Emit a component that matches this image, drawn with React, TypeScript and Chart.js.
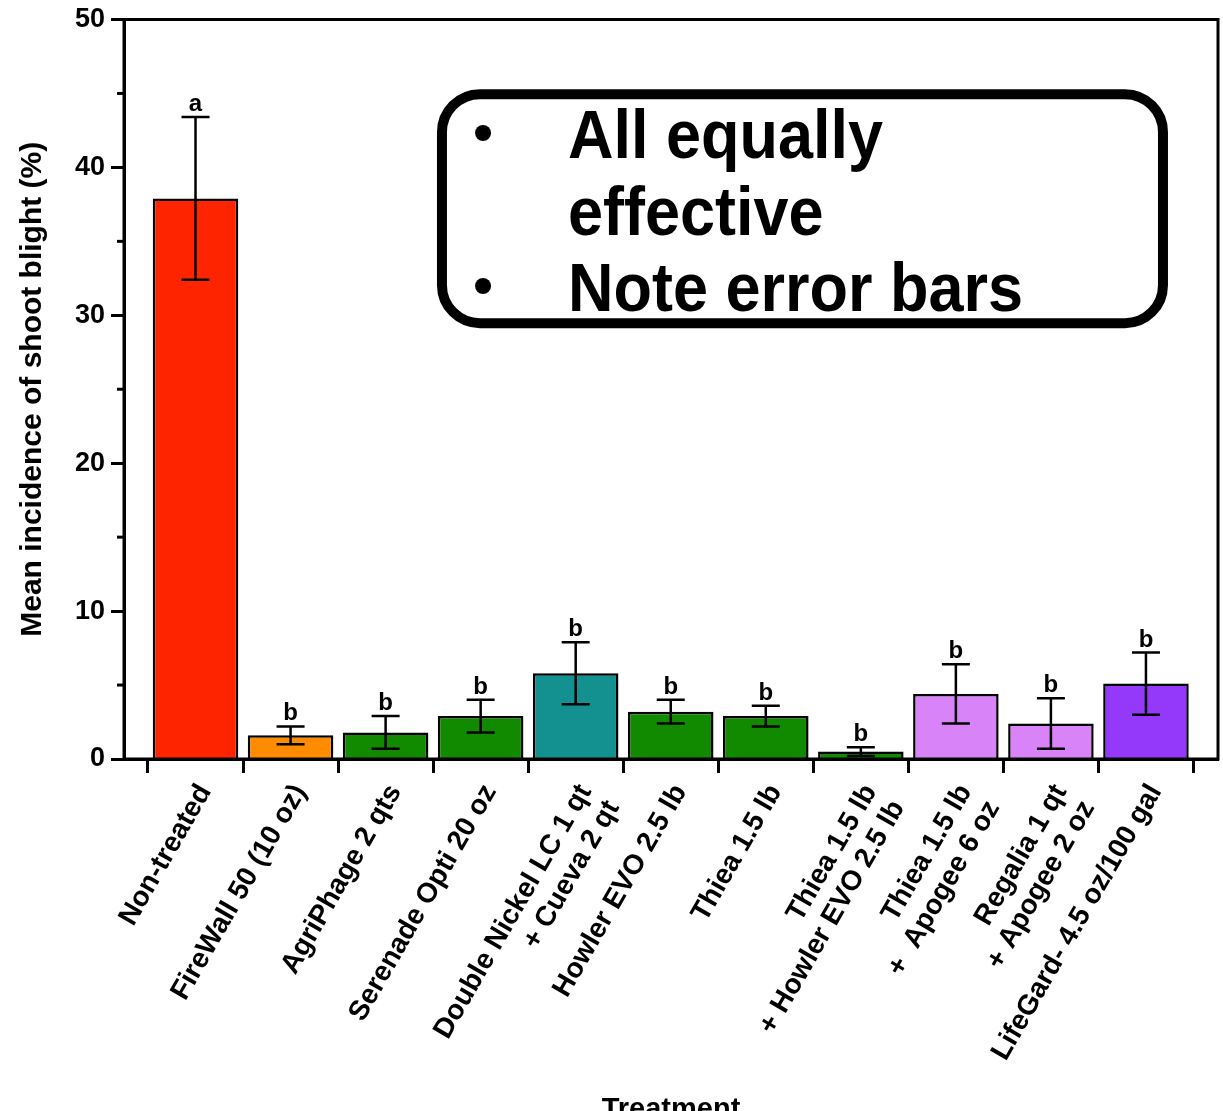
import React, { useEffect, useRef } from 'react';
import { Chart, registerables } from 'chart.js';

Chart.register(...registerables);

const FONT = "'Liberation Sans', Arial, Helvetica, sans-serif";

const treatments: (string | string[])[] = [
  'Non-treated',
  'FireWall 50 (10 oz)',
  'AgriPhage 2 qts',
  'Serenade Opti 20 oz',
  ['Double Nickel LC 1 qt', '+ Cueva 2 qt'],
  'Howler EVO 2.5 lb',
  'Thiea 1.5 lb',
  ['Thiea 1.5 lb', '+ Howler EVO 2.5 lb'],
  ['Thiea 1.5 lb', '+  Apogee 6 oz'],
  ['Regalia 1 qt', '+ Apogee 2 oz'],
  'LifeGard- 4.5 oz/100 gal',
];

const meanIncidence = [37.9, 1.6, 1.8, 2.9, 5.8, 3.2, 2.9, 0.5, 4.4, 2.4, 5.1];
const errorValues = [5.5, 0.6, 1.1, 1.1, 2.1, 0.8, 0.7, 0.3, 2.0, 1.7, 2.1];
const groupLetters = ['a', 'b', 'b', 'b', 'b', 'b', 'b', 'b', 'b', 'b', 'b'];
const barColors = [
  '#FF2400', '#FF8C00', '#118A00', '#118A00', '#139090', '#118A00',
  '#118A00', '#118A00', '#D884F8', '#D884F8', '#9438FA',
];
const yMajorTicks = [0, 10, 20, 30, 40, 50];
const yMinorTicks = [5, 15, 25, 35, 45];
const noteLines = ['All equally', 'effective', 'Note error bars'];
const noteBullets = [true, false, true];

const X_MIN = -0.7525;
const X_MAX = 10.758;
const LABEL_SHIFT = 0.1;

const overlayPlugin = {
  id: 'overlay',
  beforeDraw(chart: any) {
    const { ctx } = chart;
    ctx.save();
    ctx.fillStyle = '#fff';
    ctx.fillRect(0, 0, chart.width, chart.height);
    ctx.restore();
  },
  afterDatasetsDraw(chart: any) {
    const { ctx, chartArea, scales } = chart;
    const x = scales.x;
    const y = scales.y;
    ctx.save();
    ctx.strokeStyle = '#000';
    ctx.lineWidth = 2.5;
    ctx.lineCap = 'butt';
    meanIncidence.forEach((m, i) => {
      const cx = x.getPixelForValue(i);
      const top = y.getPixelForValue(m + errorValues[i]);
      const bot = y.getPixelForValue(Math.max(0, m - errorValues[i]));
      const half = 14;
      ctx.beginPath();
      ctx.moveTo(cx, top);
      ctx.lineTo(cx, bot);
      ctx.moveTo(cx - half, top);
      ctx.lineTo(cx + half, top);
      ctx.moveTo(cx - half, bot);
      ctx.lineTo(cx + half, bot);
      ctx.stroke();
      ctx.fillStyle = '#000';
      ctx.font = `bold 24px ${FONT}`;
      ctx.textAlign = 'center';
      ctx.textBaseline = 'alphabetic';
      ctx.fillText(groupLetters[i], cx, top - 6);
    });
    ctx.lineWidth = 3;
    ctx.strokeRect(chartArea.left, chartArea.top, chartArea.right - chartArea.left, chartArea.bottom - chartArea.top);
    yMinorTicks.forEach((v) => {
      const py = y.getPixelForValue(v);
      ctx.beginPath();
      ctx.moveTo(chartArea.left - 7, py);
      ctx.lineTo(chartArea.left, py);
      ctx.stroke();
    });
    // annotation box (data coordinates)
    const bx0 = x.getPixelForValue(2.593);
    const bx1 = x.getPixelForValue(10.179);
    const by0 = y.getPixelForValue(44.95);
    const by1 = y.getPixelForValue(29.47);
    ctx.lineWidth = 10;
    ctx.beginPath();
    ctx.roundRect(bx0, by0, bx1 - bx0, by1 - by0, 38);
    ctx.stroke();
    ctx.fillStyle = '#000';
    ctx.textBaseline = 'alphabetic';
    noteLines.forEach((t, i) => {
      const base = by0 + 64 + i * 76.5;
      ctx.save();
      ctx.translate(bx0 + 126, base);
      ctx.scale(1, 1.08);
      ctx.font = `bold 63px ${FONT}`;
      ctx.textAlign = 'left';
      ctx.fillText(t, 0, 0);
      ctx.restore();
      if (noteBullets[i]) {
        ctx.font = `bold 56px ${FONT}`;
        ctx.textAlign = 'center';
        ctx.fillText('\u2022', bx0 + 41, base - 7);
      }
    });
    ctx.font = `bold 29px ${FONT}`;
    ctx.textAlign = 'center';
    ctx.fillText('Treatment', (chartArea.left + chartArea.right) / 2, 1118);
    ctx.restore();
  },
};

export default function App() {
  const ref = useRef<HTMLCanvasElement>(null);
  useEffect(() => {
    Chart.defaults.font.family = FONT;
    const boundaryTicks: number[] = [];
    for (let i = 0; i <= treatments.length; i++) boundaryTicks.push(i - 0.5);
    const chart = new Chart(ref.current as HTMLCanvasElement, {
      type: 'bar',
      data: {
        datasets: [
          {
            data: meanIncidence.map((v, i) => ({ x: i, y: v })),
            backgroundColor: barColors,
            borderColor: '#000',
            borderWidth: 2.5,
            barPercentage: 0.9,
            categoryPercentage: 1,
            xAxisID: 'x',
          },
        ],
      },
      options: {
        animation: false,
        responsive: false,
        devicePixelRatio: 1,
        layout: { padding: { top: 15, right: 5, left: 0, bottom: 0 } },
        plugins: { legend: { display: false }, tooltip: { enabled: false } },
        scales: {
          x: {
            type: 'linear',
            position: 'bottom',
            weight: 0,
            min: X_MIN,
            max: X_MAX,
            offset: false,
            afterBuildTicks: (s: any) => {
              s.ticks = boundaryTicks.map((v) => ({ value: v }));
            },
            afterFit: (s: any) => {
              s.height = 16;
            },
            grid: {
              display: true,
              drawOnChartArea: false,
              drawTicks: true,
              offset: false,
              tickLength: 14,
              tickWidth: 3,
              tickColor: '#000',
            },
            border: { display: true, color: '#000', width: 3 },
            ticks: { display: false },
          },
          x2: {
            type: 'linear',
            position: 'bottom',
            weight: 1,
            min: X_MIN,
            max: X_MAX,
            offset: false,
            afterBuildTicks: (s: any) => {
              s.ticks = treatments.map((_, i) => ({ value: i + LABEL_SHIFT }));
            },
            afterFit: (s: any) => {
              s.height = 352 - 16;
            },
            grid: { display: false, drawTicks: false },
            border: { display: false },
            ticks: {
              autoSkip: false,
              minRotation: 60,
              maxRotation: 60,
              padding: 4,
              color: '#000',
              font: { size: 28, weight: 'bold', lineHeight: 1.15 },
              callback: (v: any) => {
                const n = Math.round(Number(v) - LABEL_SHIFT);
                return n >= 0 && n < treatments.length ? treatments[n] : '';
              },
            },
          },
          y: {
            min: 0,
            max: 50,
            afterBuildTicks: (s: any) => {
              s.ticks = yMajorTicks.map((v) => ({ value: v }));
            },
            afterFit: (s: any) => {
              s.width = 124;
            },
            grid: { drawOnChartArea: false, tickLength: 13, tickWidth: 3, tickColor: '#000' },
            border: { color: '#000', width: 3 },
            ticks: { color: '#000', padding: 6, font: { size: 27, weight: 'bold', lineHeight: 1 } },
            title: {
              display: true,
              text: 'Mean incidence of shoot blight (%)',
              color: '#000',
              font: { size: 30, weight: 'bold' },
              padding: { top: 15, bottom: 0 },
            },
          },
        },
      } as any,
      plugins: [overlayPlugin],
    });
    return () => chart.destroy();
  }, []);
  return (
    <div style={{ position: 'absolute', left: 0, top: 0, width: 1223, height: 1111 }}>
      <canvas ref={ref} width={1223} height={1111} style={{ display: 'block' }} />
    </div>
  );
}
